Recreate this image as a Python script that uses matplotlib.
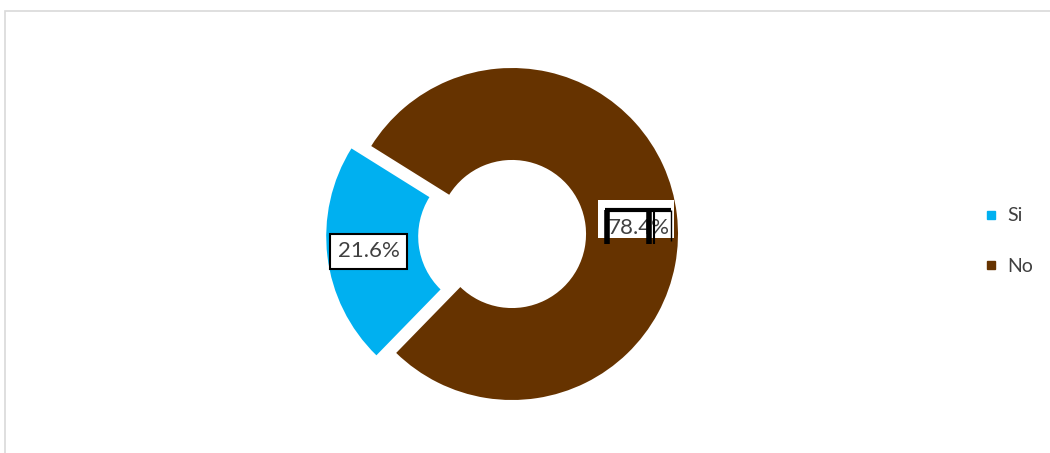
import matplotlib
matplotlib.use("Agg")
from matplotlib import pyplot as plt
from matplotlib.patches import Rectangle
from matplotlib.lines import Line2D

# Chart data
LABELS = ["Si", "No"]
VALUES = [21.6, 78.4]
COLORS = ["#00B0F0", "#663300"]

TEXT_COLOR = "#404040"
FONT = "Lato"

W, H = 1050, 453
CX, CY = 512, 234      # donut centre in pixels
R_PX = 166.0           # outer radius in pixels


def px(dx):
    return dx / R_PX


def main() -> None:
    plt.rcParams["font.family"] = [FONT, "DejaVu Sans"]
    fig = plt.figure(figsize=(W / 100, H / 100), dpi=100)
    ax = fig.add_axes([0, 0, 1, 1])

    wedges, _, autotexts = ax.pie(
        VALUES, colors=COLORS, startangle=148, counterclock=True,
        explode=[0.12, 0.0], radius=1.0,
        wedgeprops=dict(width=0.554, linewidth=0),
        autopct=lambda p: f"{p:.1f}%", pctdistance=0.75,
        textprops=dict(fontsize=16, color=TEXT_COLOR), frame=True)
    ax.set_xlim(-CX / R_PX, (W - CX) / R_PX)
    ax.set_ylim(-(H - CY) / R_PX, CY / R_PX)
    ax.set_aspect("auto")
    ax.axis("off")

    # Si label: boxed
    autotexts[0].set_bbox(dict(boxstyle="square,pad=0.35", facecolor="white",
                               edgecolor="black", linewidth=1.5))

    # No label: white patch with broken border strokes
    x0, y0 = autotexts[1].get_position()
    ax.add_patch(Rectangle((x0 - px(38), y0 - px(19)), px(76), px(38),
                           facecolor="white", edgecolor="none", zorder=3))
    autotexts[1].set_position((x0 + px(3), y0 - px(9)))
    autotexts[1].set_zorder(4)
    top = y0 + px(9)
    segs = [
        ((x0 - px(31), x0 + px(35)), (top, top), 3.0),
        ((x0 - px(29), x0 - px(29)), (top, top - px(34)), 4.0),
        ((x0 + px(13.5), x0 + px(13.5)), (top, top - px(34)), 4.0),
        ((x0 + px(18), x0 + px(18)), (top, top - px(34)), 1.5),
        ((x0 + px(35), x0 + px(35)), (top, top - px(31)), 1.0),
    ]
    for xs, ys, lw in segs:
        ax.add_line(Line2D(xs, ys, color="black", linewidth=lw, zorder=5,
                           solid_capstyle="butt"))

    handles = [Line2D([], [], marker="s", linestyle="none", markersize=6,
                      markerfacecolor=c, markeredgecolor=c) for c in COLORS]
    ax.legend(handles, LABELS, loc="center left", bbox_to_anchor=(0.922, 0.468),
              frameon=False, fontsize=14, labelcolor=TEXT_COLOR,
              handlelength=0.6, handletextpad=0.5, labelspacing=1.7)

    # outer chart border
    fig.patches.append(Rectangle((4.5 / W, -0.1), 1.2, 1 - 10.5 / H + 0.1,
                                 transform=fig.transFigure, fill=False,
                                 edgecolor="#d9d9d9", linewidth=1.2))

    fig.savefig("out.png", dpi=100)


if __name__ == "__main__":
    main()
